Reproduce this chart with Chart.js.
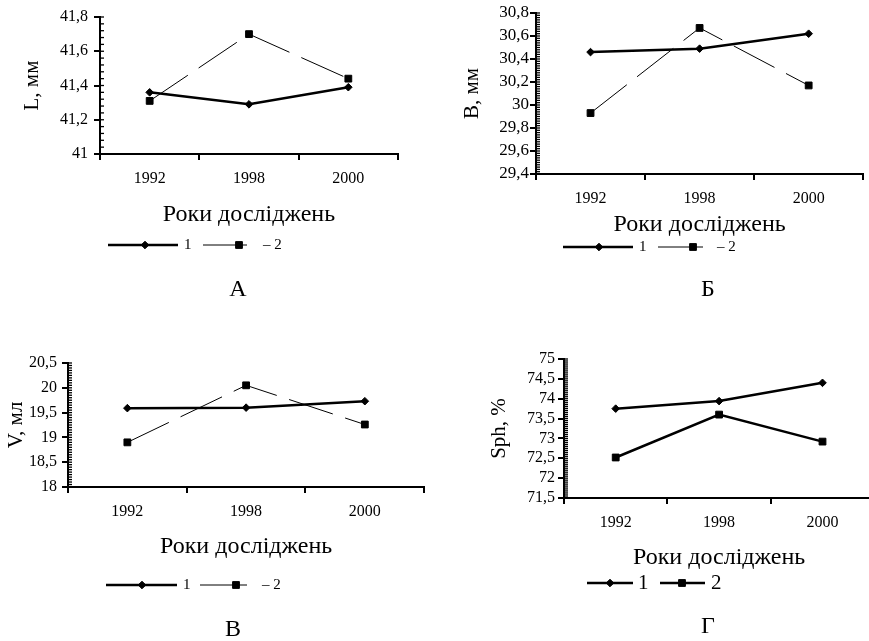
<!DOCTYPE html>
<html>
<head>
<meta charset="utf-8">
<script src="https://cdn.jsdelivr.net/npm/chart.js@4"></script>
<style>
  body { margin: 0; background: #fff; width: 869px; height: 641px; overflow: hidden; position: relative; }
  canvas { position: absolute; }
</style>
</head>
<body>
<canvas id="chartA" width="430" height="320" style="left:0;top:0"></canvas>
<canvas id="chartB" width="439" height="320" style="left:430px;top:0"></canvas>
<canvas id="chartV" width="430" height="321" style="left:0;top:320px"></canvas>
<canvas id="chartG" width="450" height="321" style="left:430px;top:320px"></canvas>
<script>
const years = ['1992', '1998', '2000'];

// L, мм
const lengthSeries1 = [41.36, 41.29, 41.39];
const lengthSeries2 = [41.31, 41.70, 41.44];
const lengthTicks = [41, 41.2, 41.4, 41.6, 41.8];

// B, мм
const breadthSeries1 = [30.46, 30.49, 30.62];
const breadthSeries2 = [29.93, 30.67, 30.17];
const breadthTicks = [29.4, 29.6, 29.8, 30, 30.2, 30.4, 30.6, 30.8];

// V, мл
const volumeSeries1 = [19.59, 19.60, 19.73];
const volumeSeries2 = [18.90, 20.05, 19.26];
const volumeTicks = [18, 18.5, 19, 19.5, 20, 20.5];

// Sph, %
const sphSeries1 = [73.75, 73.94, 74.40];
const sphSeries2 = [72.52, 73.60, 72.92];
const sphTicks = [71.5, 72, 72.5, 73, 73.5, 74, 74.5, 75];

Chart.defaults.font.family = "'Liberation Serif', 'Times New Roman', serif";
Chart.defaults.color = '#000';

// minor ticks, legend samples and panel letter
const decorPlugin = {
  id: 'decor',
  afterDraw(chart, args, opts) {
    const ctx = chart.ctx;
    const yScale = chart.scales.y;
    const axisX = chart.chartArea.left;
    ctx.save();
    ctx.strokeStyle = '#000';
    ctx.fillStyle = '#000';
    ctx.lineWidth = 1.3;
    const n = Math.round((yScale.max - yScale.min) / opts.minor);
    for (let i = 0; i <= n; i++) {
      const py = yScale.getPixelForValue(yScale.min + i * opts.minor);
      ctx.beginPath();
      ctx.moveTo(axisX, py);
      ctx.lineTo(axisX + 4, py);
      ctx.stroke();
    }

    ctx.font = opts.legendSize + "px 'Liberation Serif'";
    ctx.textBaseline = 'middle';
    ctx.textAlign = 'left';
    chart.data.datasets.forEach((ds, i) => {
      const [x0, x1, mx, tx] = opts.legendItems[i];
      const ly = opts.legendY;
      ctx.setLineDash([]);
      ctx.lineWidth = ds.borderWidth;
      ctx.beginPath();
      ctx.moveTo(x0, ly);
      ctx.lineTo(x1, ly);
      ctx.stroke();
      ctx.lineWidth = 1;
      Chart.helpers.drawPoint(ctx, { pointStyle: ds.pointStyle, radius: ds.pointRadius, rotation: 0, borderWidth: 1 }, mx, ly);
      ctx.fillText(ds.label, tx, ly);
    });

    ctx.font = "24px 'Liberation Serif'";
    ctx.textAlign = 'center';
    ctx.fillText(opts.letter, opts.letterPos[0], opts.letterPos[1]);
    ctx.restore();
  }
};

function makePanel(p) {
  const ticks = p.ticks;
  new Chart(document.getElementById(p.id), {
    type: 'line',
    data: {
      labels: years,
      datasets: [
        {
          label: p.labels[0],
          data: p.s1,
          borderColor: '#000',
          backgroundColor: '#000',
          borderWidth: 2.5,
          pointStyle: 'rectRot',
          pointRadius: 3.8,
          pointBorderWidth: 1,
          tension: 0
        },
        {
          label: p.labels[1],
          data: p.s2,
          borderColor: '#000',
          backgroundColor: '#000',
          borderWidth: p.dashed ? 1 : 2.5,
          borderDash: p.dashed ? [46, 13] : [],
          pointStyle: 'rect',
          pointRadius: 4.8,
          pointBorderWidth: 1,
          tension: 0
        }
      ]
    },
    options: {
      responsive: false,
      animation: false,
      layout: { padding: p.pad },
      plugins: {
        legend: { display: false },
        tooltip: { enabled: false },
        decor: {
          minor: p.minor,
          legendY: p.legendY,
          legendSize: p.legendSize,
          legendItems: p.legendItems,
          letter: p.letter,
          letterPos: p.letterPos
        }
      },
      scales: {
        x: {
          offset: true,
          afterFit: s => { s.height = p.xHeight; },
          border: { color: '#000', width: 2 },
          grid: { offset: true, drawOnChartArea: false, color: '#000', lineWidth: 2, tickLength: 6 },
          ticks: { color: '#000', font: { size: 16 }, padding: p.xTickPad, autoSkip: false, maxRotation: 0 },
          title: { display: true, text: 'Роки досліджень', color: '#000', font: { size: 24 }, padding: { top: 0, bottom: p.xTitlePad } }
        },
        y: {
          min: ticks[0],
          max: ticks[ticks.length - 1],
          afterBuildTicks: s => { s.ticks = ticks.map(v => ({ value: v })); },
          afterFit: s => { s.width = p.yWidth; },
          border: { color: '#000', width: 2 },
          grid: { drawOnChartArea: false, color: '#000', lineWidth: 2, tickLength: 6 },
          ticks: {
            color: '#000',
            font: { size: p.yTickSize },
            padding: p.yTickPad,
            autoSkip: false,
            callback: v => String(v).replace('.', ',')
          },
          title: { display: true, text: p.yTitle, color: '#000', font: { size: 21 }, padding: { top: p.yTitlePad, bottom: 0 } }
        }
      }
    },
    plugins: [decorPlugin]
  });
}

makePanel({
  id: 'chartA', letter: 'А', yTitle: 'L, мм', labels: ['1', '– 2'],
  s1: lengthSeries1, s2: lengthSeries2, ticks: lengthTicks, minor: 0.04, dashed: true,
  yWidth: 100, xHeight: 80, pad: { left: 0, right: 32, top: 17, bottom: 86 },
  yTickSize: 16, yTickPad: 6, xTickPad: 9, yTitlePad: 20, xTitlePad: 5,
  legendY: 245, legendSize: 15, legendItems: [[108, 178, 145, 184], [203, 247, 239, 263]],
  letterPos: [238, 290]
});

makePanel({
  id: 'chartB', letter: 'Б', yTitle: 'B, мм', labels: ['1', '– 2'],
  s1: breadthSeries1, s2: breadthSeries2, ticks: breadthTicks, minor: 0.02, dashed: true,
  yWidth: 106, xHeight: 66, pad: { left: 0, right: 3, top: 13, bottom: 80 },
  yTickSize: 17, yTickPad: 1, xTickPad: 9, yTitlePad: 30, xTitlePad: 1,
  legendY: 247, legendSize: 15, legendItems: [[133, 203, 169, 209], [228, 273, 263, 287]],
  letterPos: [278, 290]
});

makePanel({
  id: 'chartV', letter: 'В', yTitle: 'V, мл', labels: ['1', '– 2'],
  s1: volumeSeries1, s2: volumeSeries2, ticks: volumeTicks, minor: 0.05, dashed: true,
  yWidth: 68, xHeight: 76, pad: { left: 0, right: 2, top: 43, bottom: 78 },
  yTickSize: 16, yTickPad: 5, xTickPad: 9, yTitlePad: 4, xTitlePad: 2,
  legendY: 265, legendSize: 15, legendItems: [[106, 177, 142, 183], [200, 247, 236, 262]],
  letterPos: [233, 310]
});

makePanel({
  id: 'chartG', letter: 'Г', yTitle: 'Sph, %', labels: ['1', '2'],
  s1: sphSeries1, s2: sphSeries2, ticks: sphTicks, minor: 0.05, dashed: false,
  yWidth: 134, xHeight: 76, pad: { left: 0, right: 3, top: 39, bottom: 67 },
  yTickSize: 16, yTickPad: 3, xTickPad: 9, yTitlePad: 57, xTitlePad: 2,
  legendY: 263, legendSize: 21, legendItems: [[157, 203, 180, 208], [230, 275, 252, 281]],
  letterPos: [278, 307]
});
</script>
</body>
</html>
